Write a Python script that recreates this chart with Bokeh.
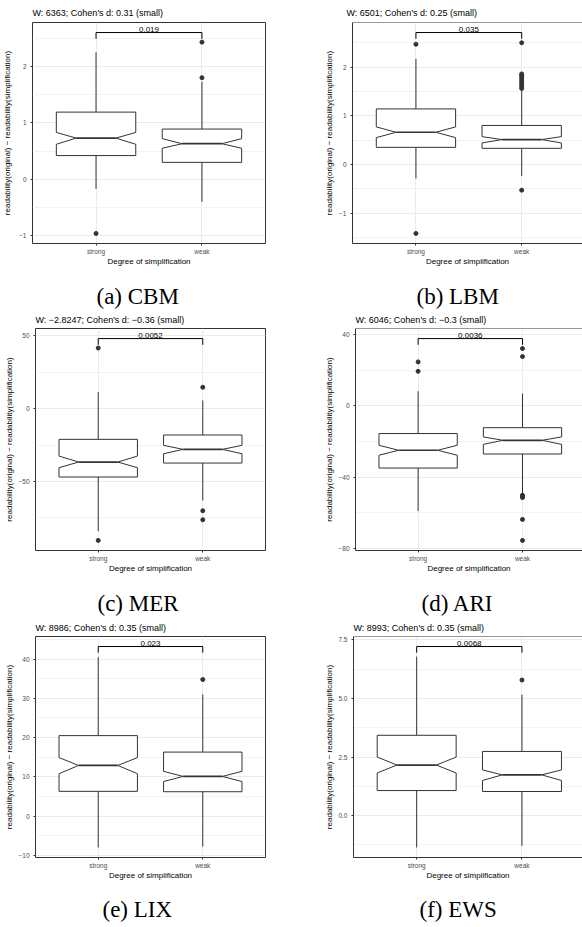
from bokeh.plotting import figure
from bokeh.layouts import column, row
from bokeh.models import FixedTicker, Span, Title
from bokeh.core.properties import value
from bokeh.embed import file_html
from bokeh.resources import INLINE

# ---------------- data ----------------
categories = ["strong", "weak"]

titles = [
    "W: 6363; Cohen's d: 0.31 (small)",
    "W: 6501; Cohen's d: 0.25 (small)",
    "W: \u22122.8247; Cohen's d: \u22120.36 (small)",
    "W: 6046; Cohen's d: \u22120.3 (small)",
    "W: 8986; Cohen's d: 0.35 (small)",
    "W: 8993; Cohen's d: 0.35 (small)",
]
captions = ["(a) CBM", "(b) LBM", "(c) MER", "(d) ARI", "(e) LIX", "(f) EWS"]
p_labels = ["0.019", "0.035", "0.0052", "0.0036", "0.023", "0.0068"]
x_label = "Degree of simplification"
y_label = "readability(original) \u2212 readability(simplification)"

# CBM
cbm_whisker_low = [-0.17, -0.40]
cbm_q1 = [0.42, 0.30]
cbm_median = [0.73, 0.63]
cbm_q3 = [1.19, 0.89]
cbm_whisker_high = [2.25, 1.73]
cbm_notch_low = [0.62, 0.55]
cbm_notch_high = [0.83, 0.72]
cbm_outliers_strong = [-0.96]
cbm_outliers_weak = [2.43, 1.80]
cbm_bracket = 2.60
cbm_yticks = [-1, 0, 1, 2]
cbm_ytick_labels = ["\u22121", "0", "1", "2"]
cbm_yminor = [-0.5, 0.5, 1.5, 2.5]

# LBM
lbm_whisker_low = [-0.29, -0.24]
lbm_q1 = [0.35, 0.33]
lbm_median = [0.66, 0.51]
lbm_q3 = [1.14, 0.80]
lbm_whisker_high = [2.17, 1.52]
lbm_notch_low = [0.55, 0.44]
lbm_notch_high = [0.77, 0.57]
lbm_outliers_strong = [2.47, -1.42]
lbm_outliers_weak = [2.50, 1.86, 1.83, 1.80, 1.76, 1.72, 1.68, 1.64, 1.60, 1.56, -0.53]
lbm_bracket = 2.71
lbm_yticks = [-1, 0, 1, 2]
lbm_ytick_labels = ["\u22121", "0", "1", "2"]
lbm_yminor = [-1.5, -0.5, 0.5, 1.5, 2.5]

# MER
mer_whisker_low = [-84.2, -63.1]
mer_q1 = [-47.0, -37.4]
mer_median = [-36.7, -28.0]
mer_q3 = [-21.1, -18.1]
mer_whisker_high = [11.4, 5.7]
mer_notch_low = [-40.6, -31.0]
mer_notch_high = [-32.6, -25.2]
mer_outliers_strong = [41.7, -90.6]
mer_outliers_weak = [14.7, -70.2, -76.4]
mer_bracket = 48.2
mer_yticks = [-50, 0, 50]
mer_ytick_labels = ["\u221250", "0", "50"]
mer_yminor = [-75, -25, 25]

# ARI
ari_whisker_low = [-59.1, -49.3]
ari_q1 = [-34.9, -27.0]
ari_median = [-24.9, -19.3]
ari_q3 = [-15.5, -12.2]
ari_whisker_high = [8.3, 7.0]
ari_notch_low = [-27.7, -21.6]
ari_notch_high = [-22.1, -17.4]
ari_outliers_strong = [24.8, 19.5]
ari_outliers_weak = [32.3, 27.8, -50.2, -50.8, -51.5, -63.8, -75.6]
ari_bracket = 37.9
ari_yticks = [-80, -40, 0, 40]
ari_ytick_labels = ["\u221280", "\u221240", "0", "40"]
ari_yminor = [-60, -20, 20]

# LIX
lix_whisker_low = [-8.0, -7.8]
lix_q1 = [6.3, 6.2]
lix_median = [12.9, 10.1]
lix_q3 = [20.5, 16.3]
lix_whisker_high = [40.5, 31.0]
lix_notch_low = [10.8, 8.8]
lix_notch_high = [14.9, 11.4]
lix_outliers_strong = []
lix_outliers_weak = [34.8]
lix_bracket = 43.2
lix_yticks = [-10, 0, 10, 20, 30, 40]
lix_ytick_labels = ["\u221210", "0", "10", "20", "30", "40"]
lix_yminor = [-5, 5, 15, 25, 35, 45]

# EWS
ews_whisker_low = [-1.36, -1.29]
ews_q1 = [1.07, 1.03]
ews_median = [2.16, 1.74]
ews_q3 = [3.43, 2.74]
ews_whisker_high = [6.79, 5.17]
ews_notch_low = [1.82, 1.50]
ews_notch_high = [2.50, 1.95]
ews_outliers_strong = []
ews_outliers_weak = [5.79]
ews_bracket = 7.22
ews_yticks = [0, 2.5, 5.0, 7.5]
ews_ytick_labels = ["0.0", "2.5", "5.0", "7.5"]
ews_yminor = [-1.25, 1.25, 3.75, 6.25]

# ---------------- styling ----------------
DARK = "#333333"
GRID = "#EBEBEB"
SANS = "Liberation Sans"
SERIF = "Liberation Serif"
BOX_HALF = 0.375
NOTCH_INDENT = 0.1875
RIGHT_X_END = 2.575   # right-hand panels are cropped at the page edge


def make_panel(idx, wlo, q1, med, q3, whi, nlo, nhi, out_s, out_w, bracket,
               yticks, ylabels, yminor, left_col, width, height,
               b_left, b_top, b_bottom, title_standoff, cap_offset, cap_gap,
               title_dx=0, ylab_standoff=2):
    pos = [i + 1 for i in range(len(categories))]
    lows = list(wlo) + list(out_s) + list(out_w)
    lo = min(lows)
    hi = bracket
    span = hi - lo
    y0, y1 = lo - 0.05 * span, hi + 0.05 * span
    x_end = 2.6 if left_col else RIGHT_X_END

    p = figure(width=width, height=height, x_range=(0.4, x_end), y_range=(y0, y1),
               output_backend="svg", toolbar_location=None,
               min_border_left=b_left, min_border_right=(26 if left_col else 0),
               min_border_top=b_top, min_border_bottom=b_bottom,
               background_fill_color="white", border_fill_color="white")
    p.title.text = titles[idx]
    p.title.text_font = SANS
    p.title.text_font_size = "9px"
    p.title.text_font_style = "normal"
    p.title.text_color = "black"
    p.title.standoff = title_standoff
    p.title.vertical_align = "top"
    p.title.offset = title_dx

    # axes
    p.xaxis.ticker = FixedTicker(ticks=pos)
    p.xaxis.major_label_overrides = {pp: c for pp, c in zip(pos, categories)}
    p.yaxis.ticker = FixedTicker(ticks=yticks, minor_ticks=yminor)
    p.yaxis.major_label_overrides = {t: l for t, l in zip(yticks, ylabels)}
    for ax in (p.xaxis[0], p.yaxis[0]):
        ax.major_tick_line_color = DARK
        ax.major_tick_line_width = 1
        ax.major_tick_out = 2
        ax.major_tick_in = 0
        ax.minor_tick_line_color = None
        ax.major_label_text_font = SANS
        ax.major_label_text_font_size = "6.5px"
        ax.major_label_text_color = "#4D4D4D"
        ax.major_label_standoff = 2
        ax.axis_label_text_font = SANS
        ax.axis_label_text_font_size = "8px"
        ax.axis_label_text_font_style = "normal"
        ax.axis_label_text_color = "black"
    p.xaxis.axis_label_standoff = -1
    p.yaxis.axis_label_standoff = ylab_standoff
    p.xaxis.axis_label = x_label
    p.yaxis.axis_label = y_label

    p.xgrid.grid_line_color = GRID
    p.xgrid.grid_line_width = 1
    p.ygrid.grid_line_color = GRID
    p.ygrid.grid_line_width = 1
    p.ygrid.minor_grid_line_color = GRID
    p.ygrid.minor_grid_line_width = 0.6

    if left_col:
        p.outline_line_color = DARK
        p.outline_line_width = 1
        p.xaxis.axis_line_color = None
        p.yaxis.axis_line_color = None
    else:
        p.outline_line_color = None
        p.xaxis.axis_line_color = DARK
        p.yaxis.axis_line_color = DARK
        p.add_layout(Span(location=y1, dimension="width", line_color=DARK, line_width=1))

    # whiskers
    p.segment(x0=pos, y0=q3, x1=pos, y1=whi, line_color=DARK, line_width=1)
    p.segment(x0=pos, y0=wlo, x1=pos, y1=q1, line_color=DARK, line_width=1)

    # notched boxes
    xs, ys = [], []
    for x, a, nl, m, nh, b in zip(pos, q1, nlo, med, nhi, q3):
        xmin, xmax = x - BOX_HALF, x + BOX_HALF
        xs.append([xmin, xmin, xmin + NOTCH_INDENT, xmin, xmin,
                   xmax, xmax, xmax - NOTCH_INDENT, xmax, xmax])
        ys.append([a, nl, m, nh, b, b, nh, m, nl, a])
    p.patches(xs=xs, ys=ys, fill_color="white", line_color=DARK, line_width=1)
    p.segment(x0=[x - BOX_HALF + NOTCH_INDENT for x in pos], y0=med,
              x1=[x + BOX_HALF - NOTCH_INDENT for x in pos], y1=med,
              line_color=DARK, line_width=1.7)

    # outliers
    ox = [pos[0]] * len(out_s) + [pos[1]] * len(out_w)
    oy = list(out_s) + list(out_w)
    if oy:
        p.scatter(x=ox, y=oy, size=4, fill_color=DARK, line_color=DARK)

    # significance bracket
    tip = bracket - 0.028 * (y1 - y0)
    p.line(x=[pos[0], pos[0], pos[1], pos[1]], y=[tip, bracket, bracket, tip],
           line_color="black", line_width=1)
    p.text(x=[(pos[0] + pos[1]) / 2], y=[bracket], text=[p_labels[idx]],
           text_font=value(SANS), text_font_size="8px", text_color="black",
           text_align="center", text_baseline="bottom", y_offset=-1)

    # gap + caption (sub-figure label) below the axis
    p.add_layout(Title(text=" ", text_font=SANS, text_font_size="1px",
                       standoff=cap_gap), "below")
    p.add_layout(Title(text=captions[idx], text_font=SERIF, text_font_size="23px",
                       text_font_style="normal", text_color="black", align="left",
                       offset=cap_offset, standoff=0), "below")
    return p


WL, WR = 291, 291
pa = make_panel(0, cbm_whisker_low, cbm_q1, cbm_median, cbm_q3, cbm_whisker_high,
                cbm_notch_low, cbm_notch_high, cbm_outliers_strong, cbm_outliers_weak,
                cbm_bracket, cbm_yticks, cbm_ytick_labels, cbm_yminor,
                True, WL, 310, 32, 22, 67, 5, 64, 10, ylab_standoff=4)
pb = make_panel(1, lbm_whisker_low, lbm_q1, lbm_median, lbm_q3, lbm_whisker_high,
                lbm_notch_low, lbm_notch_high, lbm_outliers_strong, lbm_outliers_weak,
                lbm_bracket, lbm_yticks, lbm_ytick_labels, lbm_yminor,
                False, WR, 310, 61, 22, 67, 5, 64, 10, title_dx=-6)
pc = make_panel(2, mer_whisker_low, mer_q1, mer_median, mer_q3, mer_whisker_high,
                mer_notch_low, mer_notch_high, mer_outliers_strong, mer_outliers_weak,
                mer_bracket, mer_yticks, mer_ytick_labels, mer_yminor,
                True, WL, 308, 35, 18, 68, 4, 62, 10, ylab_standoff=1)
pd_ = make_panel(3, ari_whisker_low, ari_q1, ari_median, ari_q3, ari_whisker_high,
                 ari_notch_low, ari_notch_high, ari_outliers_strong, ari_outliers_weak,
                 ari_bracket, ari_yticks, ari_ytick_labels, ari_yminor,
                 False, WR, 308, 64, 18, 68, 4, 66, 10, ylab_standoff=1)
pe = make_panel(4, lix_whisker_low, lix_q1, lix_median, lix_q3, lix_whisker_high,
                lix_notch_low, lix_notch_high, lix_outliers_strong, lix_outliers_weak,
                lix_bracket, lix_yticks, lix_ytick_labels, lix_yminor,
                True, WL, 309, 35, 18, 70, 4, 67, 9, ylab_standoff=1)
pf = make_panel(5, ews_whisker_low, ews_q1, ews_median, ews_q3, ews_whisker_high,
                ews_notch_low, ews_notch_high, ews_outliers_strong, ews_outliers_weak,
                ews_bracket, ews_yticks, ews_ytick_labels, ews_yminor,
                False, WR, 309, 62, 18, 70, 4, 66, 9, ylab_standoff=1)

layout = column(row(pa, pb), row(pc, pd_), row(pe, pf))
open("out.html", "w").write(file_html(layout, INLINE))
